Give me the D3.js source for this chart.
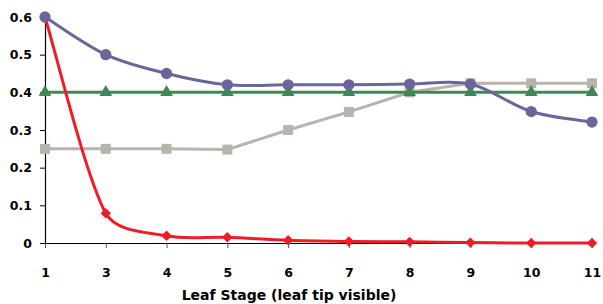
<!DOCTYPE html>
<html>
<head>
<meta charset="utf-8">
<script src="https://cdn.jsdelivr.net/npm/d3@7"></script>
<style>
body { margin: 0; background: #fff; }
</style>
</head>
<body>
<div id="viz"></div>
<script>
var svg_width = 603;
var svg_height = 304;

var stages = ["1", "3", "4", "5", "6", "7", "8", "9", "10", "11"];
var y_ticks = [0, 0.1, 0.2, 0.3, 0.4, 0.5, 0.6];
var purple_vals = [0.6, 0.5, 0.45, 0.42, 0.42, 0.42, 0.422, 0.422, 0.349, 0.321];
var gray_vals = [0.25, 0.25, 0.25, 0.248, 0.3, 0.348, 0.4, 0.424, 0.424, 0.424];
var green_vals = [0.4, 0.4, 0.4, 0.4, 0.4, 0.4, 0.4, 0.4, 0.4, 0.4];
var red_vals = [0.6, 0.079, 0.019, 0.015, 0.007, 0.004, 0.003, 0.001, 0, 0];

// plot edges (note: "top" is reserved on window, so use other names)
var plot_left = 45, plot_right = 592, plot_top = 17, plot_bottom = 243;
var font = "'DejaVu Sans', Verdana, sans-serif";

var svg = d3.select('#viz')
  .append('svg')
  .attr('width', svg_width)
  .attr('height', svg_height);

var x = d3.scalePoint().domain(stages).range([plot_left, plot_right]).padding(0);
var y = d3.scaleLinear().domain([0, 0.6]).range([plot_bottom, plot_top]);

// axes
var yAxis = svg.append('g')
  .attr('transform', 'translate(' + plot_left + ',0)')
  .call(d3.axisLeft(y).tickValues(y_ticks).tickSize(5).tickSizeOuter(0).tickPadding(8)
    .tickFormat(function(d){ return d === 0 ? "0" : d3.format(".1f")(d); }));
yAxis.select('.domain').attr('stroke', '#000').attr('stroke-width', 1.2);
yAxis.selectAll('text')
  .attr('font-family', font)
  .attr('font-weight', 'bold')
  .attr('font-size', '12.5px')
  .attr('fill', '#000');

var xAxis = svg.append('g')
  .attr('transform', 'translate(0,' + plot_bottom + ')')
  .call(d3.axisBottom(x).tickSize(5).tickSizeOuter(0).tickPadding(20));
xAxis.select('.domain').attr('stroke', '#000').attr('stroke-width', 1.2);
xAxis.selectAll('.tick line').attr('stroke', '#555');
xAxis.selectAll('text')
  .attr('font-family', font)
  .attr('font-weight', 'bold')
  .attr('font-size', '12.5px')
  .attr('fill', '#000');

svg.append('text')
  .text('Leaf Stage (leaf tip visible)')
  .attr('x', 289)
  .attr('y', 300)
  .attr('text-anchor', 'middle')
  .attr('font-family', font)
  .attr('font-weight', 'bold')
  .attr('font-size', '14px')
  .attr('fill', '#000');

// spreadsheet-style smoothing: bezier arms = tangent/6, but never longer than 1/3 of the segment
function smoothPath(pts) {
  var p = d3.path();
  p.moveTo(pts[0][0], pts[0][1]);
  function arm(i, seg) {
    var a = pts[Math.max(i - 1, 0)], b = pts[Math.min(i + 1, pts.length - 1)];
    var tx = (b[0] - a[0]) / 6, ty = (b[1] - a[1]) / 6;
    var len = Math.hypot(tx, ty), max = seg / 3;
    if (len > max && len > 0) { tx *= max / len; ty *= max / len; }
    return [tx, ty];
  }
  for (var i = 0; i < pts.length - 1; i++) {
    var p0 = pts[i], p1 = pts[i + 1];
    var seg = Math.hypot(p1[0] - p0[0], p1[1] - p0[1]);
    var a0 = arm(i, seg), a1 = arm(i + 1, seg);
    p.bezierCurveTo(p0[0] + a0[0], p0[1] + a0[1], p1[0] - a1[0], p1[1] - a1[1], p1[0], p1[1]);
  }
  return p.toString();
}

function drawSeries(vals, color, smooth, marker) {
  var pts = vals.map(function(v, i){ return [x(stages[i]), y(v)]; });
  svg.append('path')
    .attr('d', smooth ? smoothPath(pts) : d3.line()(pts))
    .attr('fill', 'none')
    .attr('stroke', color)
    .attr('stroke-width', 3);
  var sym = d3.symbol().type(marker.type).size(marker.size);
  svg.selectAll(null)
    .data(pts)
    .enter()
    .append('path')
    .attr('d', sym)
    .attr('transform', function(d){ return 'translate(' + d[0] + ',' + d[1] + ')' + (marker.rotate ? ' rotate(45)' : ''); })
    .attr('fill', color);
}

drawSeries(gray_vals, '#b7b3ad', false, {type: d3.symbolSquare, size: 100});
drawSeries(green_vals, '#3e8856', false, {type: d3.symbolTriangle, size: 70});
drawSeries(red_vals, '#ee1c25', true, {type: d3.symbolSquare, size: 55, rotate: true});
drawSeries(purple_vals, '#6b6699', true, {type: d3.symbolCircle, size: 100});
</script>
</body>
</html>
